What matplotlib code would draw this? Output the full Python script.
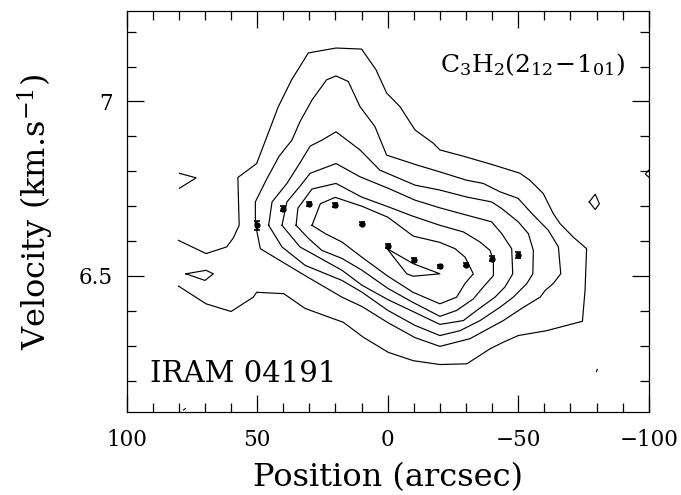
"""Position-velocity map of C3H2 towards IRAM 04191."""

import matplotlib
matplotlib.use("Agg")
import matplotlib.pyplot as plt
from matplotlib.ticker import MultipleLocator, FixedLocator, FuncFormatter

plt.rcParams["font.family"] = "DejaVu Serif"
plt.rcParams["mathtext.fontset"] = "dejavuserif"

# Contour levels traced from the map (offset in arcsec, velocity in km/s),
# outermost first. Level 1 runs off the map edge at +80".
lev1_pos = [80.2, 69.6, 61.7, 59.2, 56.9, 57.4, 50.2, 41.9, 36.8, 30.4, 19.8, 10.0,
            4.5, 0.4, -4.7, -10.5, -17.5, -20.0, -29.0, -40.5, -50.7, -54.5, -59.6,
            -63.4, -66.0, -71.1, -76.2, -75.6, -74.6, -60.9, -50.0, -44.3, -39.2,
            -30.3, -20.0, -9.8, -0.2, 9.3, 17.0, 25.9, 31.7, 39.8, 50.2, 51.5, 60.0,
            69.6, 80.2]
lev1_vel = [6.602, 6.564, 6.583, 6.608, 6.645, 6.782, 6.822, 6.985, 7.062, 7.139,
            7.153, 7.150, 7.091, 7.024, 6.985, 6.918, 6.880, 6.861, 6.843, 6.818,
            6.794, 6.774, 6.736, 6.679, 6.650, 6.611, 6.578, 6.458, 6.370, 6.343,
            6.329, 6.310, 6.291, 6.248, 6.246, 6.257, 6.281, 6.324, 6.367, 6.391,
            6.407, 6.449, 6.453, 6.439, 6.398, 6.420, 6.471]

lev2_pos = [50.7, 50.7, 46.6, 41.6, 36.7, 33.6, 29.0, 23.4, 19.8, 15.1, 10.6, 4.9,
            0.4, -11.1, -20.0, -30.3, -36.6, -43.0, -50.0, -55.2, -61.5, -65.4,
            -66.3, -63.4, -60.3, -58.4, -52.0, -44.3, -31.5, -20.0, -10.5, -0.1,
            9.8, 17.5, 32.8, 48.8]
lev2_vel = [6.650, 6.712, 6.774, 6.843, 6.889, 6.942, 7.004, 7.062, 7.073, 7.057,
            6.985, 6.928, 6.846, 6.818, 6.798, 6.774, 6.765, 6.741, 6.722, 6.679,
            6.631, 6.583, 6.506, 6.478, 6.458, 6.439, 6.410, 6.372, 6.320, 6.298,
            6.323, 6.366, 6.412, 6.439, 6.506, 6.578]

lev3_pos = [45.6, 44.3, 38.6, 33.6, 29.7, 25.2, 19.8, 10.6, 3.0, -10.5, -20.0,
            -30.3, -39.8, -43.7, -50.0, -53.9, -55.8, -55.6, -53.3, -48.1, -43.0,
            -35.4, -27.7, -20.0, -10.5, -0.1, 9.8, 17.5, 31.6, 40.5]
lev3_vel = [6.645, 6.712, 6.765, 6.824, 6.872, 6.889, 6.913, 6.861, 6.803, 6.760,
            6.746, 6.726, 6.712, 6.693, 6.655, 6.621, 6.573, 6.506, 6.478, 6.439,
            6.410, 6.372, 6.343, 6.329, 6.358, 6.401, 6.453, 6.487, 6.530, 6.583]

lev4_pos = [40.5, 38.6, 33.6, 29.7, 19.8, 10.6, -0.2, -10.5, -20.0, -30.3, -39.8,
            -43.7, -47.5, -47.9, -44.9, -41.1, -34.1, -29.0, -20.0, -10.5, -0.1,
            9.8, 17.5, 33.6]
lev4_vel = [6.645, 6.712, 6.757, 6.794, 6.822, 6.784, 6.751, 6.717, 6.695, 6.674,
            6.655, 6.621, 6.578, 6.506, 6.468, 6.439, 6.401, 6.372, 6.361, 6.395,
            6.432, 6.473, 6.516, 6.583]

lev5_pos = [35.1, 34.4, 29.0, 19.8, 10.0, -0.2, -9.7, -20.0, -29.0, -35.4, -39.2,
            -40.5, -40.5, -36.6, -32.8, -26.4, -20.0, -9.7, -0.1, 9.8, 17.5, 25.2,
            30.3]
lev5_vel = [6.645, 6.694, 6.749, 6.765, 6.726, 6.698, 6.671, 6.645, 6.626, 6.597,
            6.573, 6.545, 6.501, 6.468, 6.434, 6.401, 6.384, 6.424, 6.464, 6.516,
            6.550, 6.573, 6.607]

lev6_pos = [29.0, 25.8, 20.1, 10.0, -0.1, -9.8, -20.0, -25.8, -29.6, -32.8, -29.6,
            -26.4, -20.0, -9.7, -0.1, 9.8, 17.5, 23.9]
lev6_vel = [6.645, 6.707, 6.725, 6.700, 6.668, 6.614, 6.596, 6.578, 6.554, 6.506,
            6.478, 6.439, 6.420, 6.453, 6.499, 6.553, 6.597, 6.621]

lev7_pos = [0.2, -3.2, -7.3, -9.8, -20.0, -9.8]
lev7_vel = [6.578, 6.545, 6.506, 6.499, 6.506, 6.535]

# small isolated pieces of the lowest level
west_edge_pos = [79.8, 73.4, 79.8]
west_edge_vel = [6.794, 6.781, 6.751]
west_blob_pos = [77.3, 69.6, 66.8, 70.0]
west_blob_vel = [6.506, 6.516, 6.506, 6.487]
east_blob_pos = [-77.2, -79.5, -81.1, -79.5]
east_blob_vel = [6.712, 6.734, 6.707, 6.690]
east_edge_pos = [-100.0, -98.7, -100.0]
east_edge_vel = [6.803, 6.792, 6.783]
speck1_pos = [-80.0, -80.3]
speck1_vel = [6.226, 6.232]
speck2_pos = [77.5, 78.2]
speck2_vel = [6.120, 6.116]

# velocity of the line peak along the cut
peak_pos = [50, 40, 30, 20, 10, 0, -10, -20, -30, -40, -50]
peak_vel = [6.645, 6.693, 6.707, 6.703, 6.650, 6.586, 6.545, 6.527, 6.532, 6.549, 6.559]
peak_err = [0.013, 0.007, 0.006, 0.005, 0.005, 0.005, 0.005, 0.005, 0.005, 0.007, 0.009]

closed_levels = [(lev2_pos, lev2_vel), (lev3_pos, lev3_vel), (lev4_pos, lev4_vel),
                 (lev5_pos, lev5_vel), (lev6_pos, lev6_vel), (lev7_pos, lev7_vel),
                 (west_blob_pos, west_blob_vel), (east_blob_pos, east_blob_vel)]
open_levels = [(lev1_pos, lev1_vel), (west_edge_pos, west_edge_vel),
               (east_edge_pos, east_edge_vel), (speck1_pos, speck1_vel),
               (speck2_pos, speck2_vel)]

fig = plt.figure(figsize=(6.81, 4.95), dpi=100)
ax = fig.add_axes([0.186, 0.167, 0.7666, 0.8107])

for p, v in open_levels:
    ax.plot(p, v, color="k", lw=0.85)
for p, v in closed_levels:
    ax.plot(p + p[:1], v + v[:1], color="k", lw=0.85)

ax.errorbar(peak_pos, peak_vel, yerr=peak_err, fmt="o", ms=3.5, color="k",
            elinewidth=1.2, capsize=2.5, capthick=1.2)

ax.set_xlim(100, -100)
ax.set_ylim(6.109, 7.259)

ax.xaxis.set_major_locator(MultipleLocator(50))
ax.xaxis.set_minor_locator(MultipleLocator(10))
ax.yaxis.set_major_locator(FixedLocator([6.5, 7.0]))
ax.yaxis.set_minor_locator(MultipleLocator(0.1))
fmt = FuncFormatter(lambda x, _: f"{x:g}".replace("-", "\u2212"))
ax.xaxis.set_major_formatter(fmt)
ax.yaxis.set_major_formatter(fmt)

ax.tick_params(which="both", direction="in", top=True, right=True, width=0.9,
               colors="k")
ax.tick_params(which="major", length=12.2)
ax.tick_params(which="minor", length=6.3)
ax.tick_params(axis="x", which="major", labelsize=15.5, pad=12)
ax.tick_params(axis="y", which="major", labelsize=15.5, pad=10)
for s in ax.spines.values():
    s.set_linewidth(0.9)

ax.set_xlabel("Position (arcsec)", fontsize=23)
ax.set_ylabel("Velocity (km.s$^{-1}$)", fontsize=23)
ax.xaxis.set_label_coords(0.5, -0.125)
ax.yaxis.set_label_coords(-0.135, 0.5)

ax.text(0.045, 0.076, "IRAM 04191", transform=ax.transAxes, fontsize=21,
        ha="left", va="baseline")
ax.text(0.955, 0.849, r"$\mathrm{C_3H_2(2_{12}\!-\!1_{01})}$",
        transform=ax.transAxes, fontsize=18, ha="right", va="baseline")

fig.savefig("out.png", dpi=100)
